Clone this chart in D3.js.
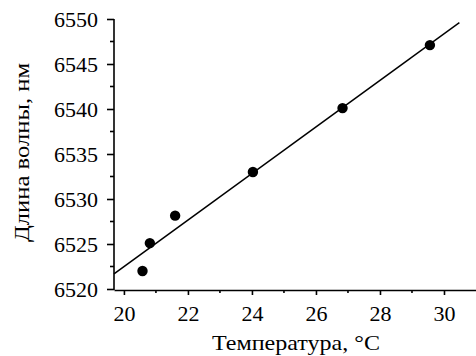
<!DOCTYPE html>
<html>
<head>
<meta charset="utf-8">
<script src="https://cdn.jsdelivr.net/npm/d3@7"></script>
<style>
  body { margin: 0; background: #fff; }
  svg text { font-family: "Liberation Serif", "Times New Roman", serif; fill: #000; }
  .axis path, .axis line { stroke: #000; stroke-width: 1.6; }
</style>
</head>
<body>
<svg width="476" height="356"></svg>
<script>
// measured points
var tempC = [20.58, 20.81, 21.6, 24.03, 26.83, 29.56];
var wavelength = [6522.0, 6525.1, 6528.15, 6533.0, 6540.1, 6547.1];
// fitted line ends
var fitX = [19.69, 30.48];
var fitY = [6521.67, 6549.6];
var xTicks = [20, 22, 24, 26, 28, 30];
var xMinor = [21, 23, 25, 27, 29];
var yTicks = [6520, 6525, 6530, 6535, 6540, 6545, 6550];
var yMinor = [6522.5, 6527.5, 6532.5, 6537.5, 6542.5, 6547.5];

var svg = d3.select("svg");
var x = d3.scaleLinear().domain([19.69, 31]).range([114, 476]);
var y = d3.scaleLinear().domain([6520, 6550]).range([289, 19]);

var fs = 22;

// x axis
var xAxisG = svg.append("g")
    .attr("class", "axis")
    .attr("transform", "translate(0,290)");
xAxisG.call(d3.axisBottom(x).tickValues(xTicks).tickFormat(d3.format("d"))
    .tickSize(5).tickSizeOuter(0).tickPadding(10));
xAxisG.append("g").selectAll("line")
    .data(xMinor)
    .enter().append("line")
    .attr("x1", function(d) { return x(d); })
    .attr("x2", function(d) { return x(d); })
    .attr("y1", 0).attr("y2", 3);

// y axis
var yAxisG = svg.append("g")
    .attr("class", "axis")
    .attr("transform", "translate(114,0)");
yAxisG.call(d3.axisLeft(y).tickValues(yTicks).tickFormat(d3.format("d"))
    .tickSize(7).tickSizeOuter(0).tickPadding(9));
yAxisG.select(".domain").attr("d", "M0," + y(6550) + "V290");
yAxisG.append("g").selectAll("line")
    .data(yMinor)
    .enter().append("line")
    .attr("y1", function(d) { return y(d); })
    .attr("y2", function(d) { return y(d); })
    .attr("x1", 0).attr("x2", -4);

svg.selectAll(".axis").attr("font-family", null).attr("font-size", null);
svg.selectAll(".axis text")
    .style("font-family", "'Liberation Serif', serif")
    .style("font-size", fs + "px");
svg.selectAll(".axis .tick line").attr("stroke-width", 1.6);

// fit line
var line = d3.line()
    .x(function(d) { return x(d[0]); })
    .y(function(d) { return y(d[1]); });
svg.append("path")
    .datum(d3.zip(fitX, fitY))
    .attr("d", line)
    .attr("fill", "none")
    .attr("stroke", "#000")
    .attr("stroke-width", 1.5);

// points
svg.append("g").selectAll("circle")
    .data(d3.zip(tempC, wavelength))
    .enter().append("circle")
    .attr("cx", function(d) { return x(d[0]); })
    .attr("cy", function(d) { return y(d[1]); })
    .attr("r", 5.2)
    .attr("fill", "#000");

// labels
svg.append("text")
    .attr("x", 296)
    .attr("y", 350)
    .attr("text-anchor", "middle")
    .attr("textLength", 168)
    .attr("lengthAdjust", "spacingAndGlyphs")
    .style("font-size", "22px")
    .text("Температура, °C");

svg.append("text")
    .attr("transform", "translate(29,152.5) rotate(-90)")
    .attr("text-anchor", "middle")
    .attr("textLength", 179)
    .attr("lengthAdjust", "spacingAndGlyphs")
    .style("font-size", "22px")
    .text("Длина волны, нм");
</script>
</body>
</html>
